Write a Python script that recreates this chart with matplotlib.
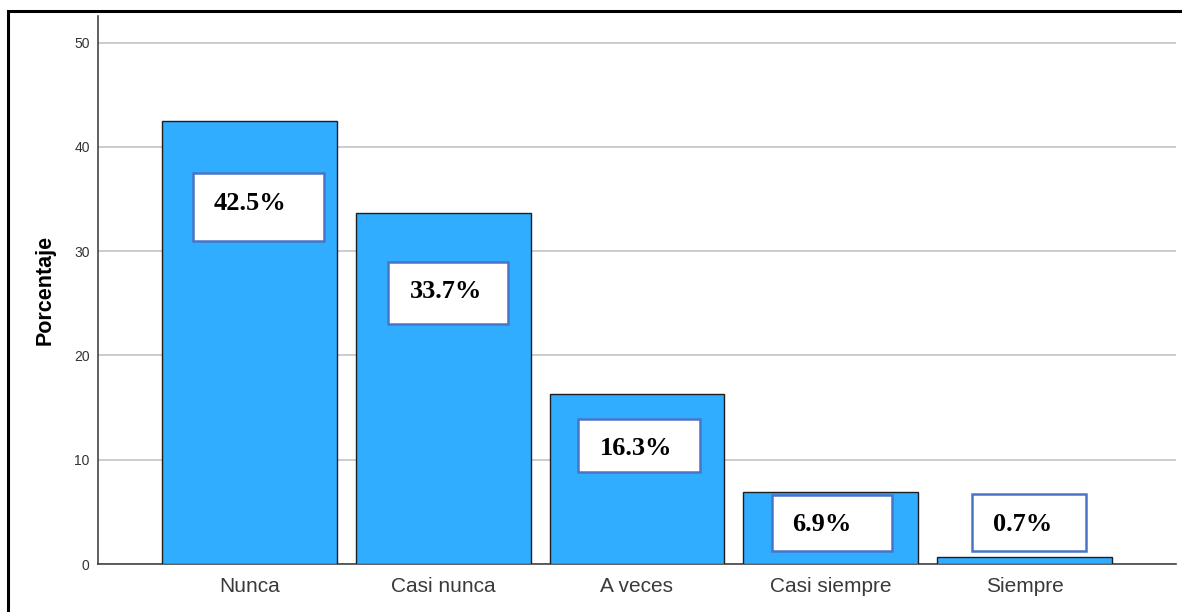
import matplotlib
matplotlib.use("Agg")
import matplotlib.pyplot as plt
from matplotlib.patches import Rectangle

categories = ["Nunca", "Casi nunca", "A veces", "Casi siempre", "Siempre"]
percentages = [42.5, 33.7, 16.3, 6.9, 0.7]
value_labels = ["42.5%", "33.7%", "16.3%", "6.9%", "0.7%"]
y_ticks = [0, 10, 20, 30, 40, 50]

# label box layout (data coords): (x0, x1, y0, y1, text_x, text_y)
label_boxes = [
    (-0.292, 0.384, 31.0, 37.5, 0.003, 34.6),
    (0.715, 1.334, 23.06, 29.0, 1.014, 26.1),
    (1.695, 2.325, 8.87, 13.95, 1.995, 11.1),
    (2.697, 3.316, 1.29, 6.58, 2.955, 3.75),
    (3.729, 4.317, 1.29, 6.68, 3.992, 3.75),
]

W, H = 1182, 612
fig = plt.figure(figsize=(W / 100, H / 100), dpi=100)
fig.patch.set_facecolor("white")

# outer frame (left & top visible)
frame = Rectangle((8 / W, -0.1), 1.2, (H - 11) / H + 0.1, transform=fig.transFigure,
                  fill=False, edgecolor="black", linewidth=2.2, zorder=10)
fig.patches.append(frame)

ax = fig.add_axes([98 / W, 48 / H, (1176 - 98) / W, (564.5 - 16) / H])
x = list(range(len(categories)))
ax.bar(x, percentages, width=0.903, color="#31ADFF", edgecolor="#1e1e1e",
       linewidth=1.0, zorder=3)

ax.set_xlim(-0.782, 4.782)
ax.set_ylim(0, 52.6)
ax.set_yticks(y_ticks)
ax.set_yticklabels([str(t) for t in y_ticks], fontsize=10, color="#333333",
                   family="Liberation Sans")
ax.set_xticks(x)
ax.set_xticklabels(categories, fontsize=15, color="#3a3a3a", family="Liberation Sans")
ax.tick_params(axis="both", length=0)
ax.tick_params(axis="y", pad=6)
ax.tick_params(axis="x", pad=9)

ax.yaxis.grid(True, color="#C4C4C4", linewidth=1.2, zorder=0)
ax.set_axisbelow(True)
for s in ["top", "right"]:
    ax.spines[s].set_visible(False)
for s in ["left", "bottom"]:
    ax.spines[s].set_color("#444444")
    ax.spines[s].set_linewidth(1.2)

ax.set_ylabel("Porcentaje", fontsize=15.5, fontweight="bold", family="Liberation Sans",
              labelpad=13)

for (x0, x1, y0, y1, tx, ty), lab in zip(label_boxes, value_labels):
    ax.add_patch(Rectangle((x0, y0), x1 - x0, y1 - y0, facecolor="white",
                           edgecolor="#4A74C8", linewidth=1.8, zorder=5))
    ax.text(tx, ty, lab, ha="center", va="center", fontsize=19, fontweight="bold",
            family="Liberation Serif", color="black", zorder=6)

fig.savefig("out.png", dpi=100)
